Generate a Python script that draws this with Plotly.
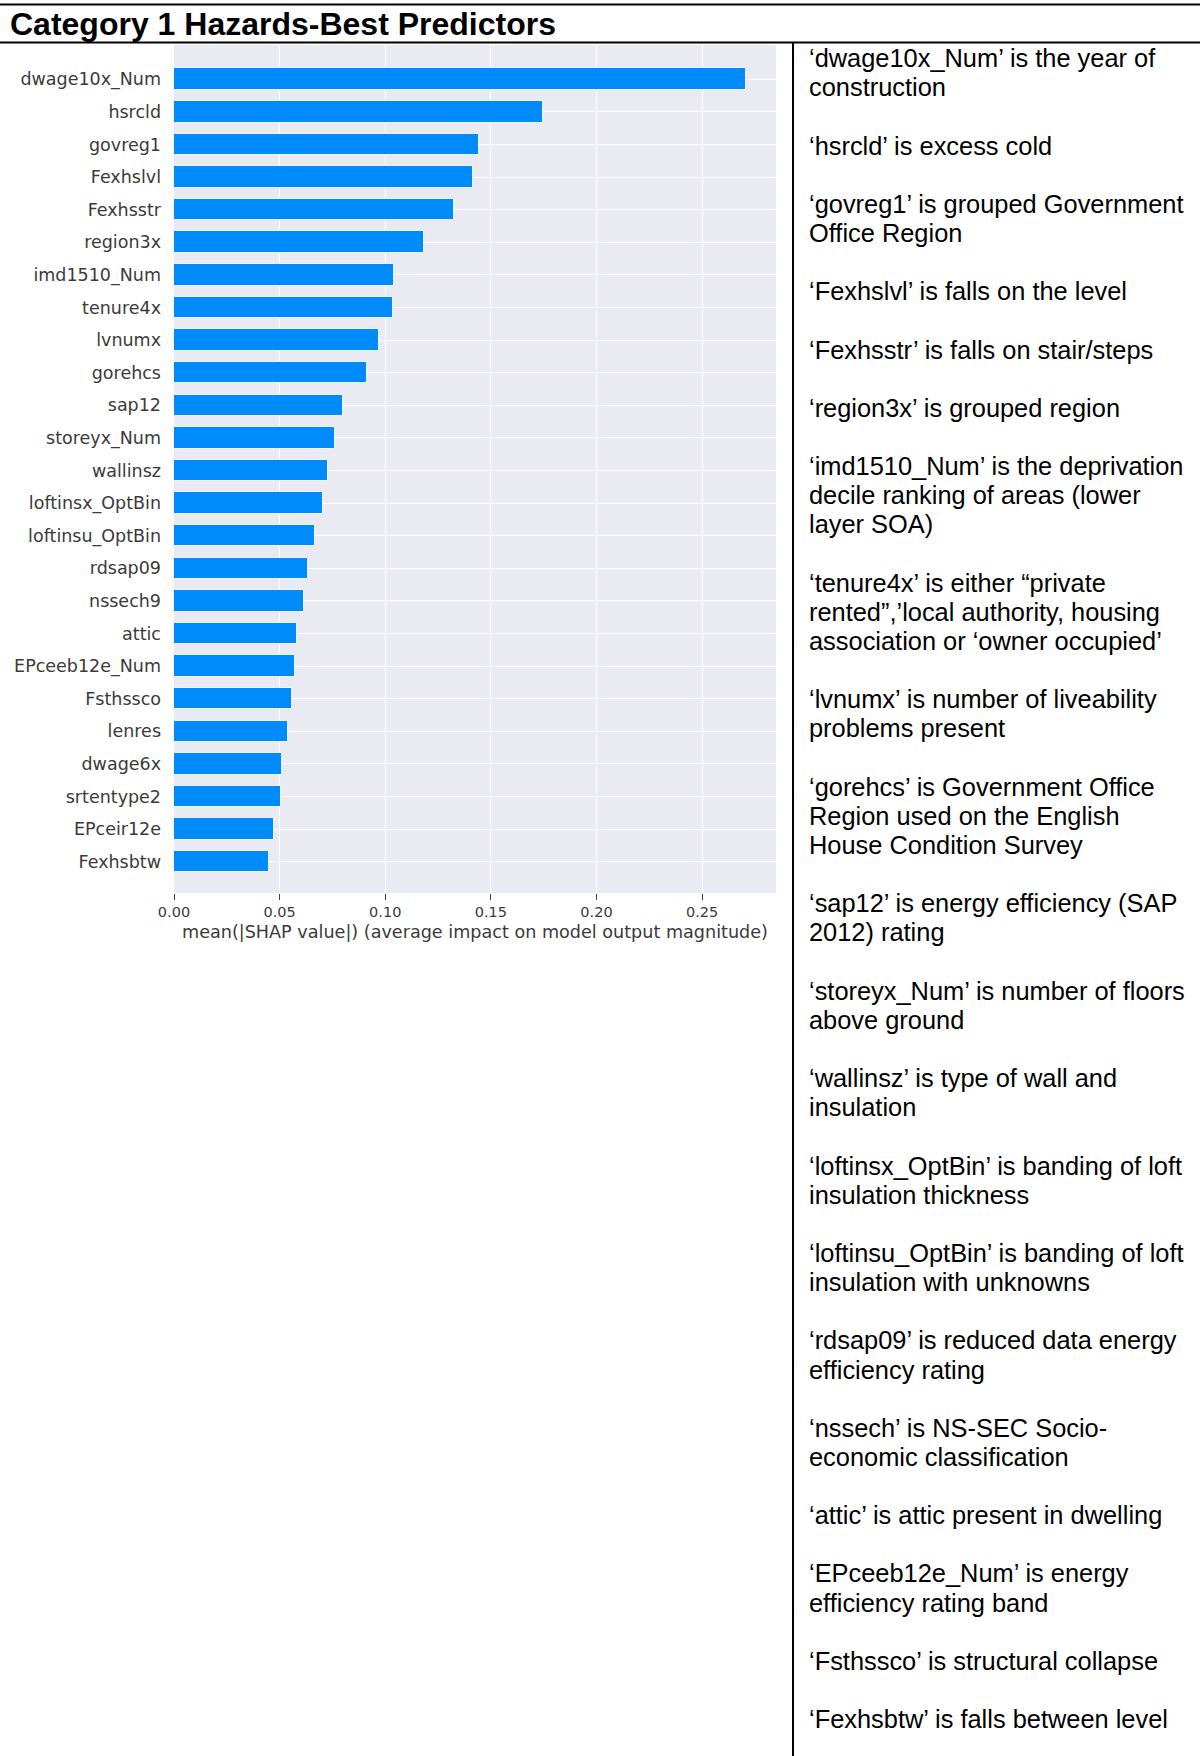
import plotly.graph_objects as go

# Feature importance (mean |SHAP|), listed from most to least important
features = [
    "dwage10x_Num", "hsrcld", "govreg1", "Fexhslvl", "Fexhsstr", "region3x",
    "imd1510_Num", "tenure4x", "lvnumx", "gorehcs", "sap12", "storeyx_Num",
    "wallinsz", "loftinsx_OptBin", "loftinsu_OptBin", "rdsap09", "nssech9",
    "attic", "EPceeb12e_Num", "Fsthssco", "lenres", "dwage6x", "srtentype2",
    "EPceir12e", "Fexhsbtw",
]
mean_abs_shap = [
    0.271, 0.1746, 0.1446, 0.1414, 0.1324, 0.1182,
    0.1043, 0.1037, 0.0972, 0.0915, 0.0800, 0.0762,
    0.0731, 0.0704, 0.0666, 0.0634, 0.0616,
    0.0582, 0.0571, 0.0559, 0.0538, 0.0513, 0.0507,
    0.0475, 0.0448,
]
x_ticks = [0.00, 0.05, 0.10, 0.15, 0.20, 0.25]
x_tick_labels = ["0.00", "0.05", "0.10", "0.15", "0.20", "0.25"]

title_text = "Category 1 Hazards-Best Predictors"
x_axis_title = "mean(|SHAP value|) (average impact on model output magnitude)"

# Glossary of variables, one entry per paragraph, already wrapped to lines
glossary = [
    ["‘dwage10x_Num’ is the year of", "construction"],
    ["‘hsrcld’ is excess cold"],
    ["‘govreg1’ is grouped Government", "Office Region"],
    ["‘Fexhslvl’ is falls on the level"],
    ["‘Fexhsstr’ is falls on stair/steps"],
    ["‘region3x’ is grouped region"],
    ["‘imd1510_Num’ is the deprivation", "decile ranking of areas (lower", "layer SOA)"],
    ["‘tenure4x’ is either “private", "rented”,’local authority, housing", "association or ‘owner occupied’"],
    ["‘lvnumx’ is number of liveability", "problems present"],
    ["‘gorehcs’ is Government Office", "Region used on the English", "House Condition Survey"],
    ["‘sap12’ is energy efficiency (SAP", "2012) rating"],
    ["‘storeyx_Num’ is number of floors", "above ground"],
    ["‘wallinsz’ is type of wall and", "insulation"],
    ["‘loftinsx_OptBin’ is banding of loft", "insulation thickness"],
    ["‘loftinsu_OptBin’ is banding of loft", "insulation with unknowns"],
    ["‘rdsap09’ is reduced data energy", "efficiency rating"],
    ["‘nssech’ is NS-SEC Socio-", "economic classification"],
    ["‘attic’ is attic present in dwelling"],
    ["‘EPceeb12e_Num’ is energy", "efficiency rating band"],
    ["‘Fsthssco’ is structural collapse"],
    ["‘Fexhsbtw’ is falls between level"],
]

W, H = 1200, 1756
PL, PR, PT, PB = 174, 776, 45, 893  # plot area in pixels


def px_x(px):
    return (px - PL) / (PR - PL)


def px_y(py):
    return (PB - py) / (PB - PT)


# bottom-to-top order for the category axis
ys = features[::-1]
xs = mean_abs_shap[::-1]

fig = go.Figure(
    go.Bar(
        x=xs,
        y=ys,
        orientation="h",
        width=0.66,
        marker=dict(color="#008BFB", line=dict(color="rgba(255,255,255,0.85)", width=1)),
        hoverinfo="x+y",
    )
)

tick_font = dict(family="DejaVu Sans", color="#3a3a3a")

fig.update_layout(
    width=W,
    height=H,
    margin=dict(l=PL, r=W - PR, t=PT, b=H - PB, pad=0),
    paper_bgcolor="white",
    plot_bgcolor="#EAEAF2",
    showlegend=False,
    bargap=0,
    xaxis=dict(
        range=[0, 0.285],
        tickvals=x_ticks,
        ticktext=x_tick_labels,
        ticks="outside",
        ticklen=6,
        tickwidth=1,
        tickcolor="#444444",
        tickfont=dict(size=14.5, **tick_font),
        showgrid=True,
        gridcolor="white",
        gridwidth=1.3,
        zeroline=False,
        showline=False,
        fixedrange=True,
    ),
    yaxis=dict(
        type="category",
        categoryorder="array",
        categoryarray=ys,
        range=[-0.96, 25.05],
        ticks="",
        ticklabelstandoff=12,
        tickfont=dict(size=17.5, **tick_font),
        showgrid=True,
        gridcolor="white",
        gridwidth=1.3,
        zeroline=False,
        showline=False,
        fixedrange=True,
    ),
)

shapes = []
line_style = dict(color="black", width=2)
# frame rules: top rule, rule under the heading, column divider
shapes.append(dict(type="line", xref="paper", yref="paper",
                   x0=px_x(0), x1=px_x(W), y0=px_y(4.5), y1=px_y(4.5), line=line_style))
shapes.append(dict(type="line", xref="paper", yref="paper",
                   x0=px_x(0), x1=px_x(W), y0=px_y(42.5), y1=px_y(42.5), line=line_style))
shapes.append(dict(type="line", xref="paper", yref="paper",
                   x0=px_x(793), x1=px_x(793), y0=px_y(42.5), y1=px_y(H), line=line_style))
fig.update_layout(shapes=shapes)

annotations = []
annotations.append(dict(
    text=title_text, xref="paper", yref="paper",
    x=px_x(8), y=px_y(23.5), xanchor="left", yanchor="middle", showarrow=False,
    font=dict(family="Liberation Sans, Arial", size=32, color="black", weight="bold"),
))
annotations.append(dict(
    text=x_axis_title, xref="paper", yref="paper",
    x=0.5, y=px_y(932.5), xanchor="center", yanchor="middle", showarrow=False,
    font=dict(size=17.6, **tick_font),
))

# glossary column: fixed line pitch with a blank line between entries
line_pitch = 29.14
row = 0
for para in glossary:
    for ln in para:
        annotations.append(dict(
            text=ln, xref="paper", yref="paper",
            x=px_x(807), y=px_y(58.2 + row * line_pitch),
            xanchor="left", yanchor="middle", showarrow=False,
            font=dict(family="Liberation Sans, Arial", size=25.4, color="black"),
        ))
        row += 1
    row += 1

fig.update_layout(annotations=annotations)

fig.write_html("out.html")
